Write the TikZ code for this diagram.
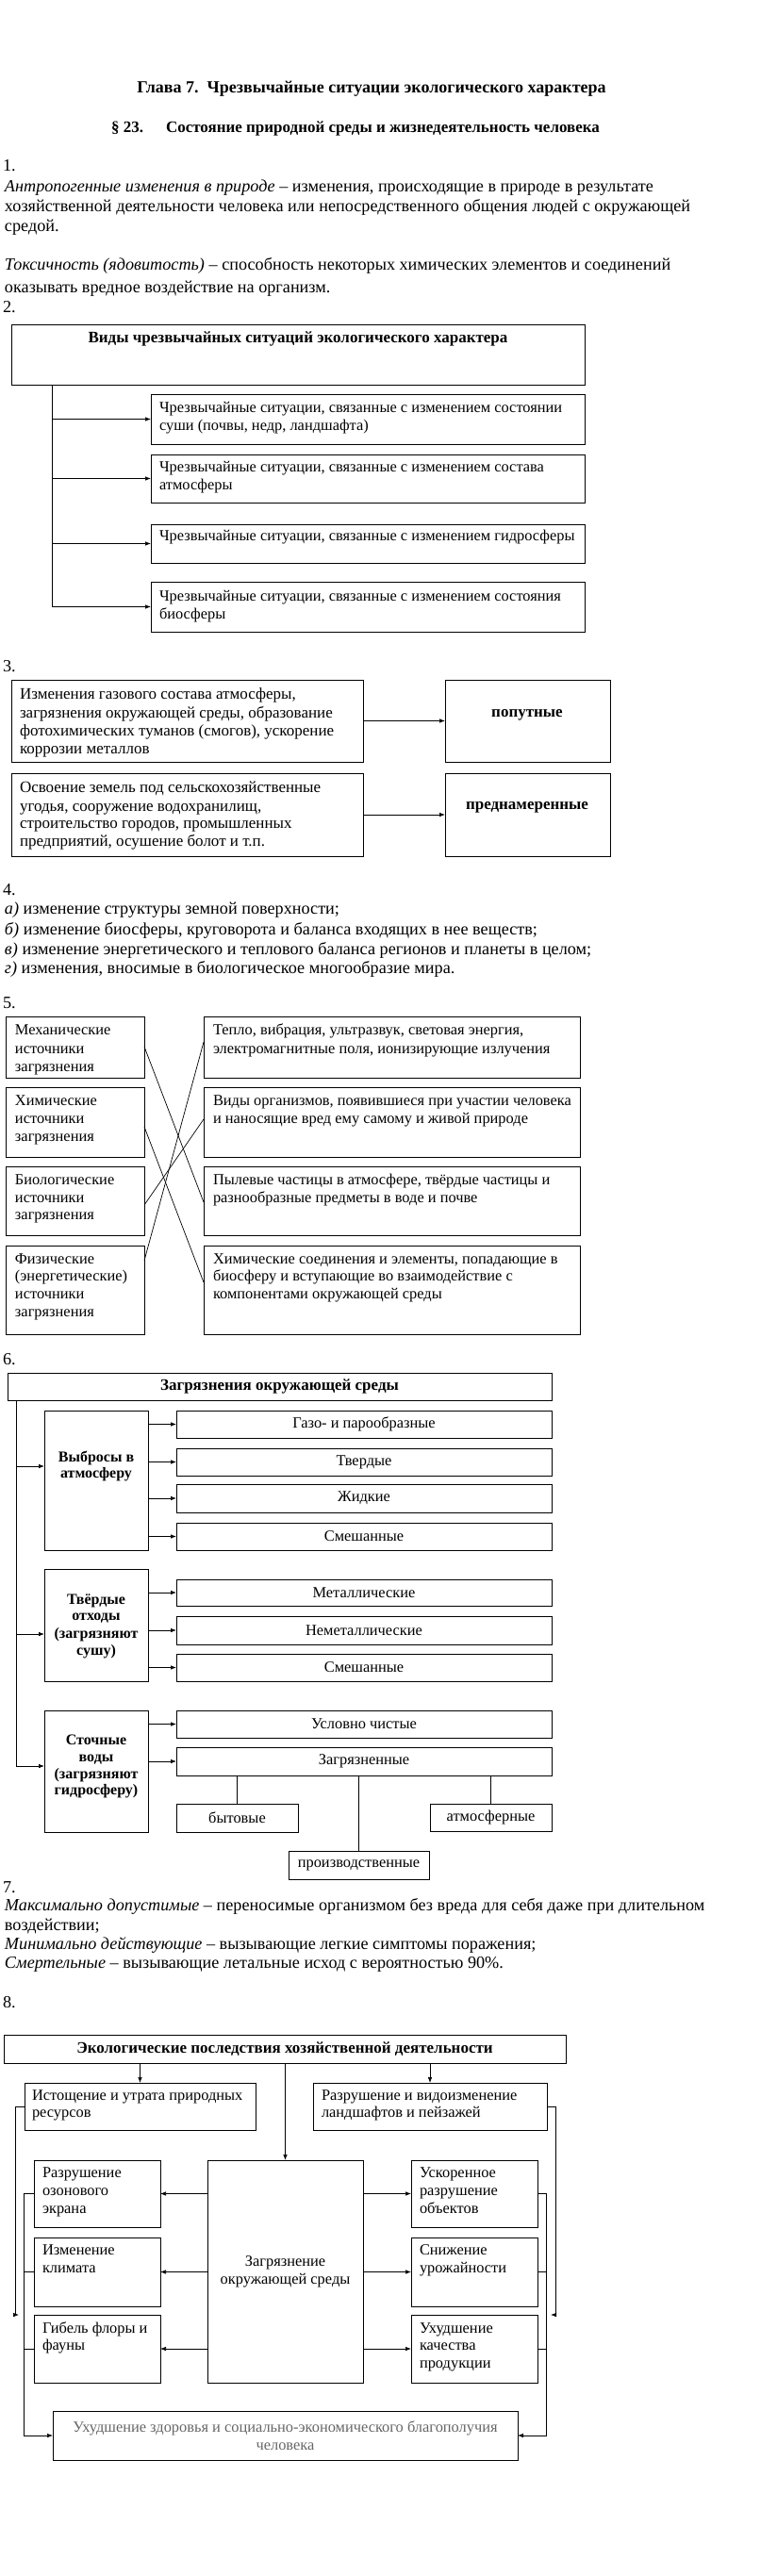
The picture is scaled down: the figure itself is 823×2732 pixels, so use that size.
\documentclass[tikz,border=0pt]{standalone}
\usepackage{fontspec}
\setmainfont{Liberation Serif}
\usetikzlibrary{arrows.meta,calc}
\newcounter{tln}
\newcommand\fp{\fontsize{18.2}{20.5}\selectfont}
\newcommand\fb{\fontsize{16.4}{19}\selectfont}
\newcommand\fbt{\fontsize{17}{19.5}\selectfont}
\newcommand\fh{\fontsize{17}{20}\selectfont\bfseries}
\newcommand\fhh{\fontsize{18}{21}\selectfont\bfseries}
\newcommand\fbb{\fontsize{16}{18}\selectfont\bfseries}
\tikzset{
 frame/.style={draw, line width=0.8pt, inner sep=0pt, outer sep=0pt, font=\fb, align=center},
 txl/.style={anchor=base west, inner sep=0pt, outer sep=0pt, font=\fp},
 txc/.style={anchor=base, inner sep=0pt, outer sep=0pt, font=\fp},
 arr/.style={-{Latex[length=6pt,width=4.5pt]}, line width=0.7pt},
 lnk/.style={line width=0.7pt},
}
\newcommand{\BX}[7][]{\node[frame,minimum width={(#5)-(#3)},minimum height={(#6)-(#4)},#1] (#2) at ({((#3)+(#5))/2},{((#4)+(#6))/2}) {#7};}
\newcommand{\TL}[4][]{\stepcounter{tln}\node[txl,#1] (t\arabic{tln}) at (#2,{(#3)+4}) {#4};}
\newcommand{\TC}[4][]{\stepcounter{tln}\node[txc,#1] (t\arabic{tln}) at (#2,{(#3)+4}) {#4};}
\begin{document}
\begin{tikzpicture}[x=1pt,y=-1pt]
\useasboundingbox (0,0) rectangle (823,2732);
\fill[white] (0,0) rectangle (823,2732);

% ---------- header
\TC[font=\fhh]{394}{95}{Глава 7.\ \ Чрезвычайные ситуации экологического характера}
\TL[font=\fh]{118}{137}{§ 23.}
\TL[font=\fh]{176}{137}{Состояние природной среды и жизнедеятельность человека}

% ---------- 1
\TL{3}{178}{1.}
\TL{5}{200}{\textit{Антропогенные изменения в природе} – изменения, происходящие в природе в результате}
\TL{5}{220}{хозяйственной деятельности человека или непосредственного общения людей с окружающей}
\TL{5}{241}{средой.}
\TL{5}{282}{\textit{Токсичность (ядовитость)} – способность некоторых химических элементов и соединений}
\TL{5}{306}{оказывать вредное воздействие на организм.}

% ---------- 2
\TL{3}{327}{2.}
\BX{s2top}{12}{344}{620}{408}{}
\TC[font=\fh]{316}{359}{Виды чрезвычайных ситуаций экологического характера}
\BX{s2a}{160}{418}{620}{471}{}
\TL[font=\fb]{169}{433}{Чрезвычайные ситуации, связанные с изменением состоянии}
\TL[font=\fb]{169}{452}{суши (почвы, недр, ландшафта)}
\BX{s2b}{160}{482}{620}{533}{}
\TL[font=\fb]{169}{496}{Чрезвычайные ситуации, связанные с изменением состава}
\TL[font=\fb]{169}{515}{атмосферы}
\BX{s2c}{160}{556}{620}{597}{}
\TL[font=\fb]{169}{569}{Чрезвычайные ситуации, связанные с изменением гидросферы}
\BX{s2d}{160}{617}{620}{670}{}
\TL[font=\fb]{169}{633}{Чрезвычайные ситуации, связанные с изменением состояния}
\TL[font=\fb]{169}{652}{биосферы}
\coordinate (s2v) at ($(s2top.south west)+(43,0)$);
\draw[lnk] (s2v) -- (s2v |- s2d.west);
\foreach \b in {s2a,s2b,s2c,s2d} \draw[arr] (s2v |- \b.west) -- (\b.west);

% ---------- 3
\TL{3}{708}{3.}
\BX{s3a}{12}{721}{385}{808}{}
\TL[font=\fbt]{21}{737}{Изменения газового состава атмосферы,}
\TL[font=\fbt]{21}{757}{загрязнения окружающей среды, образование}
\TL[font=\fbt]{21}{776}{фотохимических туманов (смогов), ускорение}
\TL[font=\fbt]{21}{795}{коррозии металлов}
\BX{s3b}{472}{721}{647}{808}{}
\TC[font=\fh]{559}{756}{попутные}
\BX{s3c}{12}{820}{385}{908}{}
\TL[font=\fbt]{21}{836}{Освоение земель под сельскохозяйственные}
\TL[font=\fbt]{21}{856}{угодья, сооружение водохранилищ,}
\TL[font=\fbt]{21}{874}{строительство городов, промышленных}
\TL[font=\fbt]{21}{893}{предприятий, осушение болот и т.п.}
\BX{s3d}{472}{820}{647}{908}{}
\TC[font=\fh]{559}{854}{преднамеренные}
\draw[arr] (s3a.east) -- (s3b.west);
\draw[arr] (s3c.east) -- (s3d.west);

% ---------- 4
\TL{3}{945}{4.}
\TL{5}{965}{\textit{а)} изменение структуры земной поверхности;}
\TL{5}{987}{\textit{б)} изменение биосферы, круговорота и баланса входящих в нее веществ;}
\TL{5}{1008}{\textit{в)} изменение энергетического и теплового баланса регионов и планеты в целом;}
\TL{5}{1028}{\textit{г)} изменения, вносимые в биологическое многообразие мира.}

% ---------- 5
\TL{3}{1065}{5.}
\BX{s5l1}{6}{1078}{153}{1143}{}
\TL[font=\fb]{16}{1093}{Механические}
\TL[font=\fb]{16}{1113}{источники}
\TL[font=\fb]{16}{1132}{загрязнения}
\BX{s5l2}{6}{1153}{153}{1227}{}
\TL[font=\fb]{16}{1168}{Химические}
\TL[font=\fb]{16}{1187}{источники}
\TL[font=\fb]{16}{1206}{загрязнения}
\BX{s5l3}{6}{1237}{153}{1310}{}
\TL[font=\fb]{16}{1252}{Биологические}
\TL[font=\fb]{16}{1271}{источники}
\TL[font=\fb]{16}{1289}{загрязнения}
\BX{s5l4}{6}{1321}{153}{1415}{}
\TL[font=\fb]{16}{1336}{Физические}
\TL[font=\fb]{16}{1354}{(энергетические)}
\TL[font=\fb]{16}{1373}{источники}
\TL[font=\fb]{16}{1392}{загрязнения}
\BX{s5r1}{216}{1078}{615}{1143}{}
\TL[font=\fb]{226}{1093}{Тепло, вибрация, ультразвук, световая энергия,}
\TL[font=\fb]{226}{1113}{электромагнитные поля, ионизирующие излучения}
\BX{s5r2}{216}{1153}{615}{1227}{}
\TL[font=\fb]{226}{1168}{Виды организмов, появившиеся при участии человека}
\TL[font=\fb]{226}{1187}{и наносящие вред ему самому и живой природе}
\BX{s5r3}{216}{1237}{615}{1310}{}
\TL[font=\fb]{226}{1252}{Пылевые частицы в атмосфере, твёрдые частицы и}
\TL[font=\fb]{226}{1271}{разнообразные предметы в воде и почве}
\BX{s5r4}{216}{1321}{615}{1415}{}
\TL[font=\fb]{226}{1336}{Химические соединения и элементы, попадающие в}
\TL[font=\fb]{226}{1354}{биосферу и вступающие во взаимодействие с}
\TL[font=\fb]{226}{1373}{компонентами окружающей среды}
\draw[lnk] ($(s5l1.north east)+(0,32)$) -- ($(s5r3.north west)+(0,38)$);
\draw[lnk] ($(s5l2.north east)+(0,42)$) -- ($(s5r4.north west)+(0,39)$);
\draw[lnk] ($(s5l3.north east)+(0,41)$) -- ($(s5r2.north west)+(0,34)$);
\draw[lnk] ($(s5l4.north east)+(0,16)$) -- ($(s5r1.north west)+(0,27)$);

% ---------- 6
\TL{3}{1443}{6.}
\BX[font=\fh]{s6top}{8}{1456}{585}{1485}{Загрязнения окружающей среды}
\BX{s6a}{47}{1496}{157}{1644}{}
\TC[font=\fbb]{102}{1546}{Выбросы в}
\TC[font=\fbb]{102}{1563}{атмосферу}
\BX{s6a1}{187}{1496}{585}{1525}{Газо- и парообразные}
\BX{s6a2}{187}{1536}{585}{1565}{Твердые}
\BX{s6a3}{187}{1574}{585}{1604}{Жидкие}
\BX{s6a4}{187}{1615}{585}{1644}{Смешанные}
\foreach \b in {s6a1,s6a2,s6a3,s6a4} \draw[arr] (s6a.east |- \b.west) -- (\b.west);
\BX{s6b}{47}{1664}{157}{1783}{}
\TC[font=\fbb]{102}{1697}{Твёрдые}
\TC[font=\fbb]{102}{1714}{отходы}
\TC[font=\fbb]{102}{1733}{(загрязняют}
\TC[font=\fbb]{102}{1751}{сушу)}
\BX{s6b1}{187}{1675}{585}{1703}{Металлические}
\BX{s6b2}{187}{1714}{585}{1744}{Неметаллические}
\BX{s6b3}{187}{1754}{585}{1783}{Смешанные}
\foreach \b in {s6b1,s6b2,s6b3} \draw[arr] (s6b.east |- \b.west) -- (\b.west);
\BX{s6c}{47}{1814}{157}{1943}{}
\TC[font=\fbb]{102}{1846}{Сточные}
\TC[font=\fbb]{102}{1864}{воды}
\TC[font=\fbb]{102}{1882}{(загрязняют}
\TC[font=\fbb]{102}{1899}{гидросферу)}
\BX{s6c1}{187}{1814}{585}{1843}{Условно чистые}
\BX{s6c2}{187}{1853}{585}{1883}{Загрязненные}
\foreach \b in {s6c1,s6c2} \draw[arr] (s6c.east |- \b.west) -- (\b.west);
\BX{s6d1}{187}{1913}{316}{1943}{бытовые}
\BX{s6d2}{456}{1913}{585}{1942}{атмосферные}
\BX{s6d3}{306}{1963}{455}{1993}{производственные}
\foreach \b in {s6d1,s6d2,s6d3} \draw[lnk] (\b.north) -- (\b.north |- s6c2.south);
\coordinate (s6v) at ($(s6top.south west)+(9,0)$);
\coordinate (s6ain) at ($(s6a.north west)+(0,59)$);
\coordinate (s6bin) at ($(s6b.north west)+(0,69)$);
\coordinate (s6cin) at ($(s6c.north west)+(0,59)$);
\draw[lnk] (s6v) -- (s6v |- s6cin);
\foreach \c in {s6ain,s6bin,s6cin} \draw[arr] (s6v |- \c) -- (\c);

% ---------- 7
\TL{3}{2003}{7.}
\TL{5}{2022}{\textit{Максимально допустимые} – переносимые организмом без вреда для себя даже при длительном}
\TL{5}{2043}{воздействии;}
\TL{5}{2063}{\textit{Минимально действующие} – вызывающие легкие симптомы поражения;}
\TL{5}{2083}{\textit{Смертельные} – вызывающие летальные исход с вероятностью 90\%.}

% ---------- 8
\TL{3}{2125}{8.}
\BX[font=\fh]{s8top}{4}{2158}{600}{2188}{Экологические последствия хозяйственной деятельности}
\BX{s8l}{26}{2209}{271}{2259}{}
\TL[font=\fb]{34}{2223}{Истощение и утрата природных}
\TL[font=\fb]{34}{2241}{ресурсов}
\BX{s8r}{332}{2209}{580}{2259}{}
\TL[font=\fb]{341}{2223}{Разрушение и видоизменение}
\TL[font=\fb]{341}{2241}{ландшафтов и пейзажей}
\BX{s8c}{220}{2291}{385}{2527}{Загрязнение\\окружающей среды}
\BX{s8l1}{36}{2291}{170}{2362}{}
\TL[font=\fb]{45}{2305}{Разрушение}
\TL[font=\fb]{45}{2324}{озонового}
\TL[font=\fb]{45}{2343}{экрана}
\BX{s8l2}{36}{2373}{170}{2446}{}
\TL[font=\fb]{45}{2387}{Изменение}
\TL[font=\fb]{45}{2406}{климата}
\BX{s8l3}{36}{2455}{170}{2527}{}
\TL[font=\fb]{45}{2470}{Гибель флоры и}
\TL[font=\fb]{45}{2488}{фауны}
\BX{s8r1}{436}{2291}{570}{2362}{}
\TL[font=\fb]{445}{2305}{Ускоренное}
\TL[font=\fb]{445}{2324}{разрушение}
\TL[font=\fb]{445}{2343}{объектов}
\BX{s8r2}{436}{2373}{570}{2446}{}
\TL[font=\fb]{445}{2387}{Снижение}
\TL[font=\fb]{445}{2406}{урожайности}
\BX{s8r3}{436}{2455}{570}{2527}{}
\TL[font=\fb]{445}{2470}{Ухудшение}
\TL[font=\fb]{445}{2488}{качества}
\TL[font=\fb]{445}{2507}{продукции}
\BX[text=black!60]{s8bot}{56}{2557}{549}{2609}{Ухудшение здоровья и социально-экономического благополучия\\человека}
\foreach \b in {s8l,s8c,s8r} \draw[arr] (s8top.south -| \b.north) -- (\b.north);
\foreach \b in {s8l1,s8l2,s8l3} \draw[arr] (s8c.west |- \b.east) -- (\b.east);
\foreach \b in {s8r1,s8r2,s8r3} \draw[arr] (s8c.east |- \b.west) -- (\b.west);
\coordinate (s8lo) at (20,2455);
\coordinate (s8ro) at (584,2455);
\draw[arr] (s8l.west) -- ++(-10,0) |- (s8lo);
\draw[arr] (s8r.east) -- ++(9,0) |- (s8ro);
\draw[arr] (s8l1.west) -- ++(-11,0) |- (s8bot.west);
\foreach \b in {s8l2,s8l3} \draw[lnk] (\b.west) -- ++(-11,0);
\draw[arr] (s8r1.east) -- ++(9,0) |- (s8bot.east);
\foreach \b in {s8r2,s8r3} \draw[lnk] (\b.east) -- ++(9,0);
\end{tikzpicture}
\end{document}
